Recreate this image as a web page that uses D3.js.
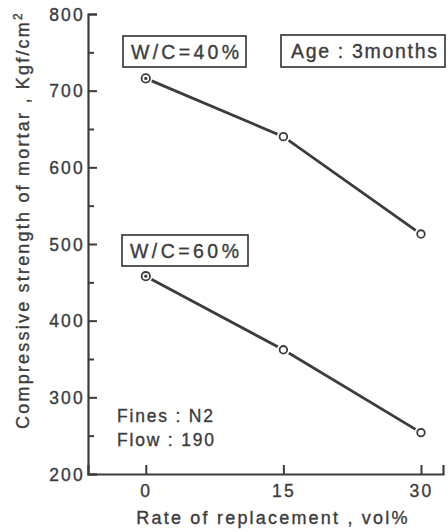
<!DOCTYPE html>
<html><head><meta charset="utf-8">
<script src="https://cdn.jsdelivr.net/npm/d3@7"></script>
<style>
html,body{margin:0;padding:0;background:#fff;}
text{font-family:"Liberation Sans",Arial,sans-serif;fill:#3c3c3c;stroke:#3c3c3c;stroke-width:0.35px;}
</style></head>
<body>
<svg id="c" width="448" height="532"></svg>
<script>
const replacement = [0, 15, 30];
const wc40 = [716, 640, 513];
const wc60 = [458, 362, 254];
const yTicks = [200, 300, 400, 500, 600, 700, 800];
const yMinorTicks = [250, 350, 450, 550, 650, 750];
const xTicks = [0, 15, 30];

const ink = "#3c3c3c";
const svg = d3.select("#c");
const x = d3.scaleLinear().domain([-6.3, 32.4]).range([88, 443]);
const y = d3.scaleLinear().domain([200, 800]).range([474, 14]);

// axes
const yAxis = d3.axisLeft(y).tickValues(yTicks).tickSize(-9).tickPadding(13).tickFormat(d3.format("d"));
const gy = svg.append("g").attr("transform", `translate(${x.range()[0]},0)`).call(yAxis);
gy.select(".domain").attr("stroke", ink).attr("stroke-width", 2.2);
gy.selectAll(".tick line").attr("stroke", ink).attr("stroke-width", 2);
gy.selectAll(".tick text").attr("font-size", 17.5).attr("letter-spacing", 2.2).attr("fill", ink)
  .attr("x", -3).attr("dy", "0.36em");
const gym = svg.append("g").attr("transform", `translate(${x.range()[0]},0)`)
  .call(d3.axisLeft(y).tickValues(yMinorTicks).tickSize(-6).tickFormat(""));
gym.select(".domain").remove();
gym.selectAll(".tick line").attr("stroke", ink).attr("stroke-width", 2);

const xAxis = d3.axisBottom(x).tickValues(xTicks).tickSize(-9).tickPadding(10);
const gx = svg.append("g").attr("transform", `translate(0,${y.range()[0]})`).call(xAxis);
gx.select(".domain").attr("stroke", ink).attr("stroke-width", 2.2);
gx.selectAll(".tick line").attr("stroke", ink).attr("stroke-width", 2);
gx.selectAll(".tick text").attr("font-size", 17.5).attr("letter-spacing", 2.2).attr("fill", ink).attr("dy", "0.72em");

// lines
const line = d3.line().x((d, i) => x(replacement[i])).y(d => y(d));
[wc40, wc60].forEach(s => {
  svg.append("path").datum(s).attr("d", line).attr("fill", "none")
    .attr("stroke", ink).attr("stroke-width", 2.8);
  const g = svg.append("g");
  g.selectAll(".mask").data(s).join("circle")
    .attr("cx", (d, i) => x(replacement[i])).attr("cy", d => y(d))
    .attr("r", 6.5).attr("fill", "#fff");
  g.selectAll(".mk").data(s).join("circle")
    .attr("cx", (d, i) => x(replacement[i])).attr("cy", d => y(d))
    .attr("r", (d, i) => i === 0 ? 4.2 : 3.8).attr("fill", "#fff")
    .attr("stroke", ink).attr("stroke-width", 1.8);
  g.append("circle").attr("cx", x(replacement[0])).attr("cy", y(s[0]))
    .attr("r", 1.6).attr("fill", ink);
});

// boxed labels
function box(x0, y0, w, h, label, tx, tw) {
  svg.append("rect").attr("x", x0).attr("y", y0).attr("width", w).attr("height", h)
    .attr("fill", "#fff").attr("stroke", ink).attr("stroke-width", 1.7);
  svg.append("text").attr("x", tx).attr("y", y0 + h / 2).attr("dy", "0.36em")
    .attr("font-size", 19.5).attr("textLength", tw).attr("lengthAdjust", "spacing").text(label);
}
box(123, 36, 123, 31, "W/C=40%", 131, 108);
box(281, 35, 164, 32, "Age : 3months", 291, 146);
box(122, 235, 126, 31, "W/C=60%", 130, 109);

svg.append("text").attr("x", 117).attr("y", 422).attr("font-size", 17.5).attr("letter-spacing", 1.8).text("Fines : N2");
svg.append("text").attr("x", 117).attr("y", 446).attr("font-size", 17.5).attr("letter-spacing", 1.8).text("Flow : 190");

// axis titles
svg.append("text").attr("x", 273).attr("y", 524).attr("text-anchor", "middle")
  .attr("font-size", 18).attr("letter-spacing", 2.2).text("Rate of replacement , vol%");
const yl = svg.append("text").attr("transform", "translate(29,220) rotate(-90)")
  .attr("text-anchor", "middle").attr("font-size", 18).attr("letter-spacing", 2.2);
yl.append("tspan").text("Compressive strength of mortar , Kgf/cm");
yl.append("tspan").attr("font-size", 12).attr("dy", -7).text("2");
</script>
</body></html>
